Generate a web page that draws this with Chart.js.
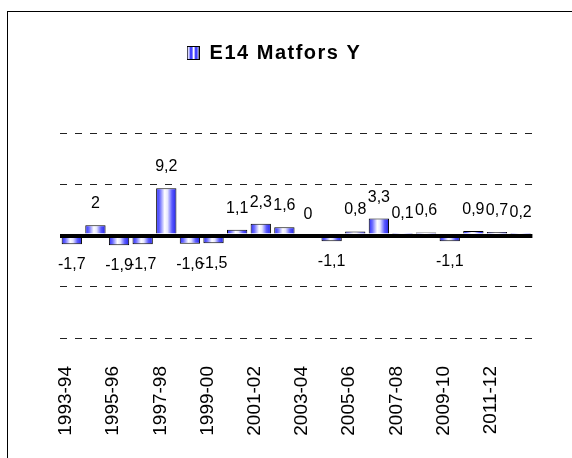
<!DOCTYPE html>
<html>
<head>
<meta charset="utf-8">
<script src="https://cdn.jsdelivr.net/npm/chart.js@4.4.1/dist/chart.umd.min.js"></script>
<style>
    html, body { margin: 0; padding: 0; background: #fff; overflow: hidden; }
    #wrap { position: relative; width: 572px; height: 458px; overflow: hidden; }
    #frame { position: absolute; left: 7px; top: 11px; width: 620px; height: 520px; border: 1px solid #000; }
    #chart { position: absolute; left: 0; top: 0; }
</style>
</head>
<body>
<div id="wrap">
    <div id="frame"></div>
    <canvas id="chart" width="572" height="458"></canvas>
</div>
<script>
// Seizoenen en waarden
var seasons = ["1993-94", "1994-95", "1995-96", "1996-97", "1997-98", "1998-99", "1999-00",
    "2000-01", "2001-02", "2002-03", "2003-04", "2004-05", "2005-06", "2006-07", "2007-08",
    "2008-09", "2009-10", "2010-11", "2011-12", "2012-13"];
var matforsY = [-1.7, 2, -1.9, -1.7, 9.2, -1.6, -1.5, 1.1, 2.3, 1.6, 0, -1.1, 0.8, 3.3, 0.1,
    0.6, -1.1, 0.9, 0.7, 0.2];
var yTicks = [-20, -10, 0, 10, 20];
var seriesName = "E14 Matfors Y";

var barShare = 0.86;

// Cilinder-achtige vulling per staaf
function barFill(c) {
    var chart = c.chart;
    var xs = chart.scales.x;
    if (!xs || c.dataIndex === undefined) {
        return "#5050ff";
    }
    var cx = xs.getPixelForValue(c.dataIndex);
    var half = xs.width / seasons.length * barShare / 2;
    var g = chart.ctx.createLinearGradient(cx - half, 0, cx + half, 0);
    g.addColorStop(0, "#2828ff");
    g.addColorStop(0.18, "#6c6cff");
    g.addColorStop(0.42, "#ffffff");
    g.addColorStop(0.56, "#e6e6ff");
    g.addColorStop(0.78, "#5a5aff");
    g.addColorStop(1, "#2020e8");
    return g;
}

// Legendasymbool
var marker = document.createElement("canvas");
marker.width = 13;
marker.height = 14;
(function () {
    var m = marker.getContext("2d");
    m.fillStyle = "#d8d8ff";
    m.fillRect(0, 0, 13, 14);
    m.fillStyle = "#4444ff";
    m.fillRect(3, 1, 3, 12);
    m.fillStyle = "#ffffff";
    m.fillRect(6, 1, 2, 12);
    m.fillStyle = "#4444ff";
    m.fillRect(8, 1, 3, 12);
    m.strokeStyle = "#000";
    m.lineWidth = 1;
    m.strokeRect(0.5, 0.5, 12, 13);
})();

// Waardelabels boven/onder de staven
var valueLabels = {
    id: "valueLabels",
    afterDatasetsDraw: function (chart) {
        var ctx = chart.ctx;
        var meta = chart.getDatasetMeta(0);
        ctx.save();
        ctx.font = '16px "Liberation Sans", Arial, sans-serif';
        ctx.fillStyle = "#000";
        ctx.textAlign = "center";
        ctx.textBaseline = "alphabetic";
        meta.data.forEach(function (bar, i) {
            var v = matforsY[i];
            var txt = String(v).replace(".", ",");
            var y = v >= 0 ? bar.y - 17 : bar.y + 25;
            ctx.fillText(txt, bar.x, y);
        });
        ctx.restore();
    }
};

// Extra letterafstand alleen voor de legenda
var legendSpacing = {
    id: "legendSpacing",
    beforeLayout: function (chart) { chart.ctx.letterSpacing = "1.5px"; },
    afterLayout: function (chart) { chart.ctx.letterSpacing = "0px"; },
    beforeDraw: function (chart) { chart.ctx.letterSpacing = "1.5px"; },
    beforeDatasetsDraw: function (chart) { chart.ctx.letterSpacing = "0px"; }
};

var ctx = document.getElementById("chart");

new Chart(ctx, {
    type: "bar",
    data: {
        labels: seasons,
        datasets: [{
            label: seriesName,
            data: matforsY,
            backgroundColor: barFill,
            borderColor: "#000",
            borderWidth: 1,
            categoryPercentage: 1,
            barPercentage: barShare
        }]
    },
    options: {
        responsive: false,
        animation: false,
        devicePixelRatio: 1,
        layout: {
            padding: { top: 33, left: 0, right: 24, bottom: 0 }
        },
        plugins: {
            legend: {
                display: true,
                position: "top",
                labels: {
                    usePointStyle: true,
                    pointStyleWidth: 13,
                    boxHeight: 14,
                    padding: 10,
                    color: "#000",
                    font: { family: '"Liberation Sans", Arial, sans-serif', size: 20, weight: "bold" },
                    generateLabels: function () {
                        return [{
                            text: seriesName,
                            pointStyle: marker,
                            fillStyle: "#4444ff",
                            strokeStyle: "#000",
                            lineWidth: 0,
                            hidden: false,
                            datasetIndex: 0
                        }];
                    }
                }
            },
            // lege titel als ruimte tussen legenda en plotgebied
            title: {
                display: true,
                text: "",
                weight: 500,
                font: { size: 10, lineHeight: 1 },
                padding: { top: 0, bottom: 50 }
            },
            tooltip: { enabled: false }
        },
        scales: {
            x: {
                offset: true,
                grid: { display: false, drawTicks: false },
                border: { display: false },
                ticks: {
                    autoSkip: false,
                    minRotation: 90,
                    maxRotation: 90,
                    padding: 28,
                    labelOffset: -6,
                    color: "#000",
                    z: 1,
                    font: { family: '"Liberation Sans Narrow", "Arial Narrow", "Liberation Sans", sans-serif', size: 19 },
                    callback: function (val, i) {
                        return i % 2 === 0 ? seasons[i] : "";
                    }
                },
                afterFit: function (s) { s.height = 120; }
            },
            y: {
                min: -20,
                max: 20,
                ticks: { display: false, stepSize: 10 },
                afterBuildTicks: function (s) {
                    s.ticks = yTicks.map(function (v) { return { value: v }; });
                },
                afterFit: function (s) { s.width = 60; },
                border: {
                    display: false,
                    dash: function (c) { return c.tick && c.tick.value === 0 ? [] : [7, 8]; }
                },
                grid: {
                    drawTicks: false,
                    z: 1,
                    color: function (c) { return c.tick && c.tick.value === 0 ? "#000" : "#222"; },
                    lineWidth: function (c) { return c.tick && c.tick.value === 0 ? 4 : 1; }
                }
            }
        }
    },
    plugins: [legendSpacing, valueLabels]
});
</script>
</body>
</html>
